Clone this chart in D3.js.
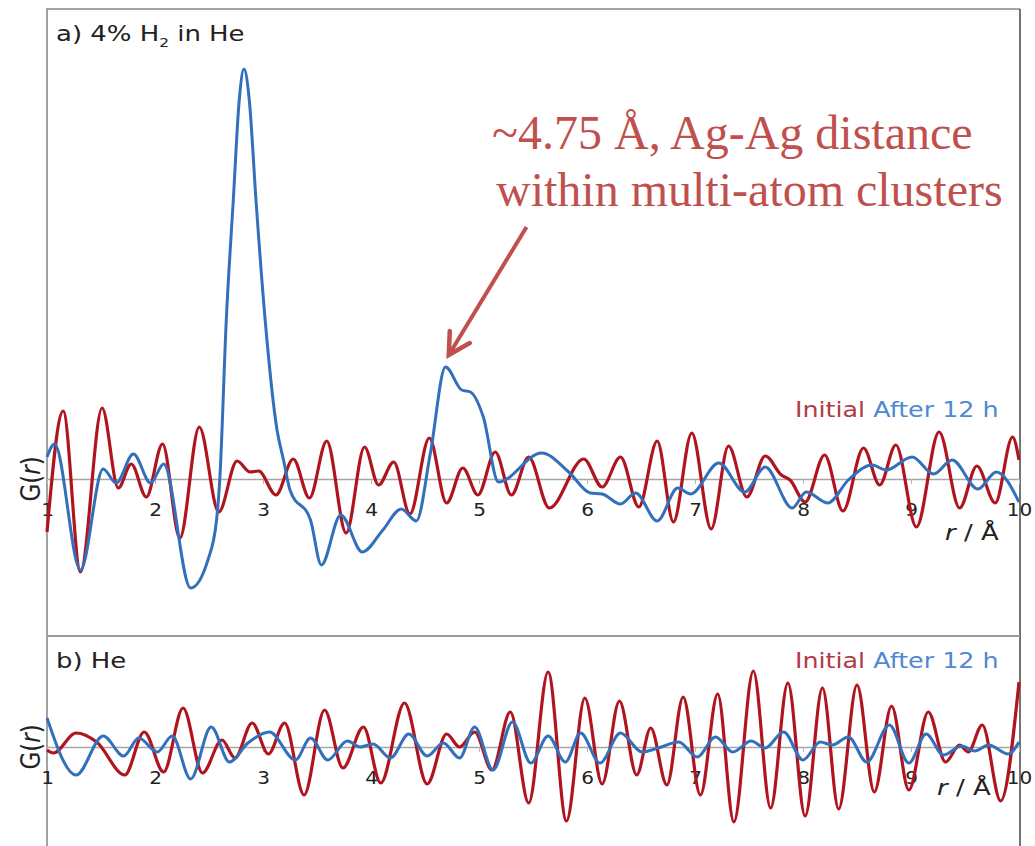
<!DOCTYPE html>
<html>
<head>
<meta charset="utf-8">
<script src="https://cdn.jsdelivr.net/npm/d3@7"></script>
<style>
  body { margin: 0; background: #fff; }
  svg { display: block; }
  .tick text { font-family: "DejaVu Sans", sans-serif; font-size: 17px; fill: #222; }
</style>
</head>
<body>
<svg id="chart"></svg>
<script>
var width = 1035;
var height = 846;

// tick labels on the r axis
var rTicks = [1, 2, 3, 4, 5, 6, 7, 8, 9, 10];

// panel a) 4% H2 in He, Initial
var aInitialR = [1.00,1.15,1.31,1.51,1.66,1.78,1.92,2.07,2.23,2.41,2.59,2.76,2.88,2.96,3.12,3.28,3.43,3.59,3.77,3.94,4.07,4.21,4.36,4.54,4.70,4.85,4.99,5.15,5.30,5.46,5.65,5.97,6.14,6.31,6.48,6.65,6.80,6.97,7.15,7.31,7.48,7.65,7.80,7.88,8.02,8.20,8.37,8.56,8.71,8.86,9.05,9.26,9.45,9.61,9.78,9.94,10.00];
var aInitialG = [-5.3,6.8,-9.3,7.1,-0.9,1.5,-1.8,3.5,-5.9,5.2,-3.3,1.8,0.7,0.8,-1.6,2.0,-1.9,3.8,-5.4,3.2,-0.6,1.7,-3.5,4.1,-2.4,1.1,-1.6,2.7,-1.6,2.2,-2.9,2.0,-0.8,2.2,-2.8,3.8,-4.3,4.6,-5.0,3.3,-1.8,2.3,0.4,-0.1,-2.3,2.4,-3.2,3.1,-0.6,3.4,-4.8,4.7,-2.9,1.3,-2.4,4.2,1.9];

// panel a) After 12 h
var aAfterR = [1.00,1.07,1.31,1.52,1.64,1.80,1.96,2.08,2.33,2.49,2.57,2.60,2.66,2.725,2.78,2.824,2.873,2.935,3.02,3.13,3.19,3.25,3.44,3.54,3.72,3.92,4.11,4.28,4.42,4.55,4.69,4.84,4.92,5.04,5.18,5.58,5.83,6.03,6.14,6.31,6.45,6.65,6.84,6.96,7.22,7.46,7.65,7.90,8.03,8.23,8.42,8.64,8.77,9.01,9.21,9.38,9.62,9.79,10.00];
var aAfterG = [2.2,3.5,-9.1,1.0,-0.4,2.5,-0.4,1.5,-10.9,-8.1,-4.1,0,15.9,27.9,37.9,41.0,37.9,27.9,15.9,4.9,1.9,-1.1,-4.1,-8.6,-3.6,-7.3,-5.1,-3.0,-4.2,2.6,11.2,8.9,8.7,6.2,-0.3,2.6,0.7,-1.4,-1.5,-2.5,-1.4,-4.2,-0.9,-1.5,1.6,-1.3,1.2,-2.9,-1.3,-2.4,-0.1,1.4,0.9,2.2,0.5,1.9,-1.0,0.7,-2.3];

// panel b) He, Initial
var bInitialR = [1.00,1.06,1.27,1.46,1.72,1.90,2.08,2.26,2.44,2.62,2.74,2.90,3.05,3.20,3.38,3.57,3.74,3.93,4.09,4.31,4.52,4.70,4.82,4.96,5.12,5.29,5.46,5.64,5.81,5.98,6.14,6.30,6.46,6.59,6.74,6.89,7.05,7.21,7.36,7.54,7.70,7.86,8.02,8.18,8.33,8.50,8.66,8.82,8.98,9.16,9.32,9.45,9.53,9.66,9.83,10.00];
var bInitialG = [-0.3,-0.6,1.4,0.5,-2.8,1.5,-2.5,3.9,-2.6,0.7,-1.1,2.4,-0.7,2.4,-4.8,3.7,-2.1,2.0,-3.6,4.4,-3.7,1.3,0.0,1.5,-2.3,3.5,-5.6,7.5,-7.4,4.9,-3.7,4.6,-2.8,1.9,-3.8,5.0,-4.8,5.3,-7.5,7.6,-6.1,6.4,-6.9,5.9,-6.2,6.2,-4.5,4.1,-4.3,3.5,-1.5,0.2,-0.5,2.2,-5.4,6.5];

// panel b) After 12 h
var bAfterR = [1.00,1.27,1.52,1.71,1.85,2.02,2.16,2.33,2.52,2.69,2.86,3.06,3.30,3.44,3.60,3.78,3.90,4.02,4.18,4.35,4.52,4.67,4.82,4.96,5.13,5.31,5.48,5.64,5.80,5.94,6.12,6.31,6.51,6.66,6.85,7.02,7.19,7.35,7.52,7.65,7.82,8.00,8.16,8.27,8.42,8.59,8.80,8.98,9.14,9.30,9.47,9.59,9.72,9.90,10.00];
var bAfterG = [2.9,-2.8,1.1,-0.9,0.9,-0.5,1.1,-3.2,2.0,-1.5,0.4,1.5,-1.3,0.9,-1.3,0.6,0.0,0.3,-1.1,1.3,-0.9,0.4,-1.1,2.0,-2.3,2.5,-1.6,1.1,-1.5,1.4,-1.6,1.4,-0.5,-0.1,0.5,-1.0,1.0,-0.5,0.6,-0.1,1.5,-1.3,0.5,0.2,1.0,-1.5,2.2,-1.6,1.3,-0.8,0.1,-0.4,0.2,-0.7,0.5];

var red = "#b0151f";
var blue = "#3270bb";
var noteColor = "#c0504d";
var sx = 1.18; // the source figure is stretched sideways, so its labels are too

var svg = d3.select("#chart").attr("width", width).attr("height", height);

var x = d3.scaleLinear().domain([1, 10]).range([47, 1019]);
var yA = d3.scaleLinear().domain([-15.7, 47]).range([636, 9]);
var yB = d3.scaleLinear().domain([-9.9, 11.1]).range([846, 636]);

// frame
var frame = svg.append("g").attr("fill", "none");
frame.append("path").attr("d", "M47,846V9H1020").attr("stroke", "#a3a3a3").attr("stroke-width", 2);
frame.append("path").attr("d", "M1020,9V846").attr("stroke", "#444").attr("stroke-width", 1.5);
frame.append("path").attr("d", "M47,636H1020").attr("stroke", "#9a9a9a").attr("stroke-width", 2);

function stretched(g, tx, ty) {
    return g.append("g").attr("transform", "translate(" + tx + "," + ty + ") scale(" + sx + ",1)");
}

function panel(y, title, sub, rest, series, legendY, rLabelX, rLabelY) {
    var g = svg.append("g");

    // zero line with small ticks
    var axis = d3.axisBottom(x).tickValues(rTicks).tickSize(5).tickSizeOuter(0).tickPadding(20)
        .tickFormat(d3.format("d"));
    var ax = g.append("g").attr("transform", "translate(0," + y(0) + ")").call(axis);
    ax.select(".domain").attr("stroke", "#a6a6a6").attr("stroke-width", 1.5);
    ax.selectAll(".tick line").attr("stroke", "#b5b5b5");
    ax.selectAll(".tick text").attr("transform", "scale(" + sx + ",1)");

    var line = d3.line()
        .x(function(d) { return x(d[0]); })
        .y(function(d) { return y(d[1]); })
        .curve(d3.curveMonotoneX);

    series.forEach(function(s) {
        g.append("path")
            .datum(d3.zip(s.r, s.g))
            .attr("fill", "none")
            .attr("stroke", s.color)
            .attr("stroke-width", s.w)
            .attr("stroke-linejoin", "round")
            .attr("d", line);
    });

    // panel title
    var t = stretched(g, 56, y.range()[1] + 32).append("text")
        .attr("font-family", "DejaVu Sans, sans-serif").attr("font-size", 22).attr("fill", "#222");
    t.append("tspan").text(title);
    if (sub) {
        t.append("tspan").attr("font-size", 13).attr("dy", 6).text(sub);
        t.append("tspan").attr("dy", -6).text(rest);
    }

    // legend
    var l = stretched(g, 795, legendY).append("text")
        .attr("font-family", "DejaVu Sans, sans-serif").attr("font-size", 21.5);
    l.append("tspan").attr("fill", "#b23a48").text("Initial ");
    l.append("tspan").attr("fill", "#4f89cf").text("After 12 h");

    // y label
    var gl = stretched(g, 30, y(0)).append("text")
        .attr("transform", "rotate(-90)")
        .attr("text-anchor", "middle").attr("dy", "0.35em")
        .attr("font-family", "DejaVu Sans, sans-serif").attr("font-size", 23).attr("fill", "#222");
    gl.append("tspan").text("G(");
    gl.append("tspan").attr("font-style", "italic").text("r");
    gl.append("tspan").text(")");

    // x label
    var xl = stretched(g, rLabelX, rLabelY).append("text")
        .attr("font-family", "DejaVu Sans, sans-serif").attr("font-size", 22).attr("fill", "#222");
    xl.append("tspan").attr("font-style", "italic").text("r");
    xl.append("tspan").text(" / Å");
}

panel(yA, "a) 4% H", "2", " in He", [
    { r: aInitialR, g: aInitialG, color: red, w: 3.2 },
    { r: aAfterR, g: aAfterG, color: blue, w: 3 }
], 417, 945, 540);

panel(yB, "b) He", null, null, [
    { r: bInitialR, g: bInitialG, color: red, w: 3.2 },
    { r: bAfterR, g: bAfterG, color: blue, w: 3 }
], 668, 937, 795);

// annotation for the ~4.75 A peak
var note = svg.append("g");
var tip = [x(4.72), yA(12.4)];
var tail = [x(5.44), yA(25.2)];
note.append("path")
    .attr("d", "M" + tail + "L" + tip)
    .attr("stroke", noteColor).attr("stroke-width", 4).attr("fill", "none");
note.append("path")
    .attr("d", "M" + [tip[0] + 1, tip[1] - 24] + "L" + tip + "L" + [tip[0] + 21, tip[1] - 12])
    .attr("stroke", noteColor).attr("stroke-width", 4.5).attr("fill", "none")
    .attr("stroke-linecap", "round").attr("stroke-linejoin", "miter");

var nt = note.append("text")
    .attr("font-family", "Liberation Serif, Times New Roman, serif")
    .attr("font-size", 48).attr("fill", noteColor);
nt.append("tspan").attr("x", 492).attr("y", 149).text("~4.75 Å, Ag-Ag distance");
nt.append("tspan").attr("x", 496).attr("y", 206).text("within multi-atom clusters");
</script>
</body>
</html>
